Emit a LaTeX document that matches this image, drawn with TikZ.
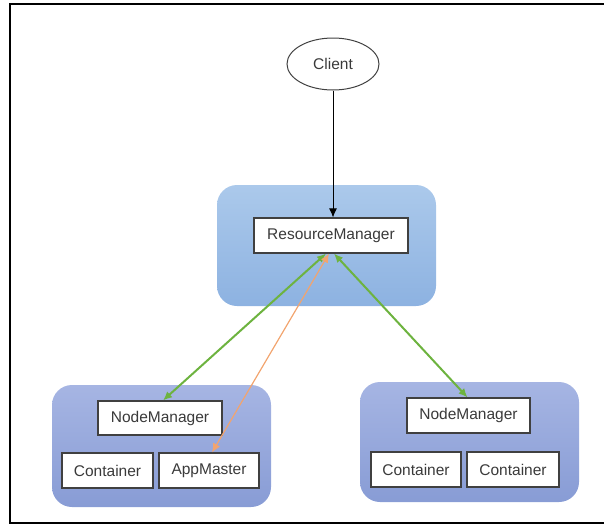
\documentclass[tikz,border=0pt]{standalone}
\usepackage{fontspec}
\setmainfont{Liberation Sans}
\usetikzlibrary{arrows.meta,shapes,positioning}
\definecolor{rmtop}{HTML}{ABC9EB}
\definecolor{rmbot}{HTML}{8DB2E1}
\definecolor{nmtop}{HTML}{A6B5E3}
\definecolor{nmbot}{HTML}{889CD5}
\definecolor{boxline}{HTML}{404040}
\definecolor{txt}{HTML}{3A3A3A}
\definecolor{lgreen}{HTML}{6DB33F}
\definecolor{lorange}{HTML}{F2A46E}

\begin{document}
\begin{tikzpicture}[x=1pt,y=-1pt,
		box/.style={draw=boxline,fill=white,line width=1.1pt,inner sep=0pt,minimum height=35pt,text=txt,font=\fontsize{15.5}{18}\selectfont},
		group/.style={rounded corners=20pt,inner sep=0pt},
		link/.style={line width=2pt,draw=lgreen,{Latex[length=9pt,width=8pt]}-{Latex[length=9pt,width=8pt]}}]
		\useasboundingbox (0,0) rectangle (604,525);
		\draw [line width=2pt] (604,4) -- (10,4) -- (10,523) -- (604,523);
		% groups
		\node [group,top color=rmtop,bottom color=rmbot,minimum width=219pt,minimum height=121pt] (rmgroup) at (326.5,245.5) {};
		\node [group,top color=nmtop,bottom color=nmbot,minimum width=219pt,minimum height=122pt] (groupA) at (161.5,446) {};
		\node [group,top color=nmtop,bottom color=nmbot,minimum width=219pt,minimum height=120pt] (groupB) at (469.5,442) {};
		% boxes
		\node [draw=boxline,line width=1pt,ellipse,minimum width=92pt,minimum height=52pt,inner sep=0pt,text=txt,font=\fontsize{15.5}{18}\selectfont] (client) at (333,64) {Client};
		\node [box,minimum width=154pt] (rm) at (331,235.5) {ResourceManager};
		\node [box,minimum width=124pt,minimum height=34pt] (nmA) at (160,418) {NodeManager};
		\node [box,minimum width=91pt] (contA) at (107.5,470.5) {Container};
		\node [box,minimum width=100pt] (amA) at (209,470.5) {AppMaster};
		\node [box,minimum width=123pt] (nmB) at (468.5,415.5) {NodeManager};
		\node [box,minimum width=90pt] (contB) at (416,469.5) {Container};
		\node [box,minimum width=92pt] (contC) at (513,469.5) {Container};
		% links
		\draw [line width=1pt,-{Latex[length=9pt,width=8pt]}] (client.south) -- (client.south |- rm.north);
		\draw [link] ([xshift=-5pt]rm.south) -- ([xshift=3pt]nmA.north);
		\draw [link] ([xshift=3pt]rm.south) -- ([xshift=-1pt]nmB.north);
		\draw [line width=1.2pt,draw=lorange,{Latex[length=9pt,width=8pt]}-{Latex[length=9pt,width=8pt]}] ([xshift=-2pt]rm.south) -- ([xshift=3pt]amA.north);
		\end{tikzpicture}
\end{document}
